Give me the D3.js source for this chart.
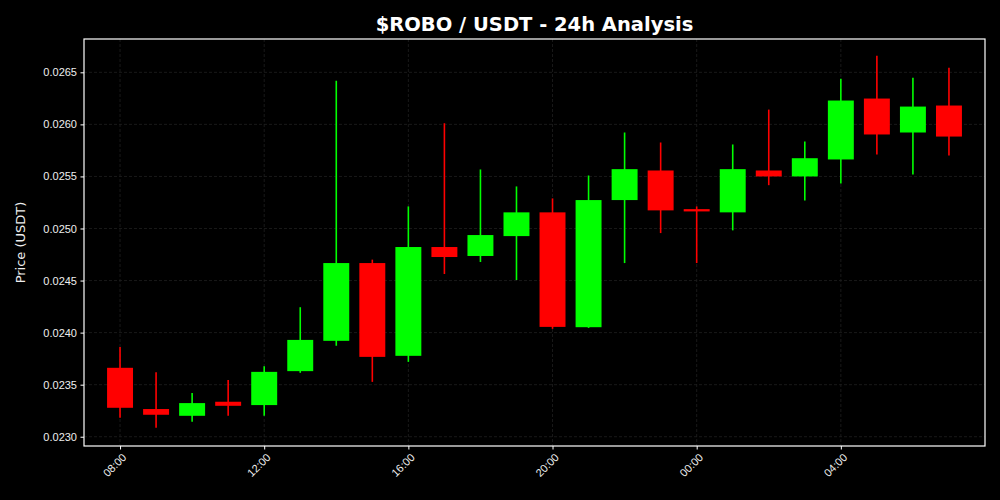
<!DOCTYPE html>
<html>
<head>
<meta charset="utf-8">
<script src="https://cdn.jsdelivr.net/npm/d3@7"></script>
<style>
  html, body { margin: 0; padding: 0; background: #000; }
  svg { display: block; font-family: "DejaVu Sans", sans-serif; }
</style>
</head>
<body>
<div id="chart"></div>
<script>
// hourly candles, 08:00 -> 07:00 next day
const hours = ["08:00","09:00","10:00","11:00","12:00","13:00","14:00","15:00","16:00","17:00","18:00","19:00",
               "20:00","21:00","22:00","23:00","00:00","01:00","02:00","03:00","04:00","05:00","06:00","07:00"];
const open  = [0.023662,0.023266,0.023201,0.023336,0.023304,0.023630,0.023921,0.024668,0.023777,0.024822,0.024736,0.024927,
               0.025155,0.024052,0.025273,0.025557,0.025186,0.025155,0.025557,0.025500,0.025663,0.026248,0.025922,0.026181];
const high  = [0.023863,0.023620,0.023419,0.023544,0.023678,0.024244,0.026420,0.024701,0.025212,0.026011,0.025567,0.025404,
               0.025289,0.025509,0.025922,0.025826,0.025212,0.025807,0.026142,0.025835,0.026439,0.026659,0.026449,0.026545];
const low   = [0.023182,0.023086,0.023144,0.023201,0.023201,0.023614,0.023873,0.023527,0.023719,0.024563,0.024678,0.024505,
               0.024036,0.024045,0.024668,0.024956,0.024668,0.024982,0.025416,0.025270,0.025433,0.025711,0.025519,0.025701];
const close = [0.023278,0.023211,0.023323,0.023297,0.023623,0.023930,0.024668,0.023767,0.024822,0.024726,0.024937,0.025155,
               0.024055,0.025273,0.025570,0.025174,0.025164,0.025570,0.025500,0.025675,0.026229,0.025903,0.026171,0.025883];
const yTicks = [0.0230,0.0235,0.0240,0.0245,0.0250,0.0255,0.0260,0.0265];

const width = 1000, height = 500,
  margin = { top: 39, right: 15, bottom: 54, left: 84 };

const start = new Date(2024, 0, 1, 8, 0);
const HOUR = 3600 * 1000;
const data = hours.map((h, i) => ({
  t: new Date(start.getTime() + i * HOUR),
  label: h, o: open[i], h: high[i], l: low[i], c: close[i]
}));

const x = d3.scaleTime()
  .domain([new Date(start.getTime() - HOUR), new Date(start.getTime() + 24 * HOUR)])
  .range([margin.left, width - margin.right]);

const y = d3.scaleLinear()
  .domain([0.022911, 0.02682])
  .range([height - margin.bottom, margin.top]);

const svg = d3.select("#chart").append("svg")
  .attr("width", width)
  .attr("height", height);

svg.append("rect").attr("width", width).attr("height", height).attr("fill", "#000");

const xTicks = d3.range(0, 24, 4).map(i => new Date(start.getTime() + i * HOUR));

// grid
svg.append("g").selectAll("line")
  .data(yTicks).join("line")
  .attr("x1", margin.left).attr("x2", width - margin.right)
  .attr("y1", d => y(d)).attr("y2", d => y(d))
  .attr("stroke", "#1f1f1f").attr("stroke-dasharray", "3,2").attr("stroke-width", 0.8);
svg.append("g").selectAll("line")
  .data(xTicks).join("line")
  .attr("y1", margin.top).attr("y2", height - margin.bottom)
  .attr("x1", d => x(d)).attr("x2", d => x(d))
  .attr("stroke", "#1f1f1f").attr("stroke-dasharray", "3,2").attr("stroke-width", 0.8);

// candles
const half = x(new Date(start.getTime() + 0.36 * HOUR)) - x(start);
const col = d => d.c >= d.o ? "#00ff00" : "#ff0000";

const candles = svg.append("g").selectAll("g")
  .data(data).join("g");

candles.append("line")
  .attr("x1", d => x(d.t)).attr("x2", d => x(d.t))
  .attr("y1", d => y(d.h)).attr("y2", d => y(d.l))
  .attr("stroke", col).attr("stroke-width", 1.6);

candles.append("rect")
  .attr("x", d => x(d.t) - half)
  .attr("width", half * 2)
  .attr("y", d => y(Math.max(d.o, d.c)))
  .attr("height", d => Math.max(1, Math.abs(y(d.o) - y(d.c))))
  .attr("fill", col);

// axes
const yAxis = d3.axisLeft(y).tickValues(yTicks).tickFormat(d3.format(".4f")).tickSize(3.5).tickPadding(3.5);
const xAxis = d3.axisBottom(x).tickValues(xTicks).tickFormat(d3.timeFormat("%H:%M")).tickSize(3.5).tickPadding(3.5);

const gy = svg.append("g")
  .attr("transform", `translate(${margin.left},0)`)
  .call(yAxis);
gy.select(".domain").remove();
gy.selectAll("line").attr("stroke", "#fff");
gy.selectAll("text").attr("fill", "#eee").attr("font-size", "11px");

const gx = svg.append("g")
  .attr("transform", `translate(0,${height - margin.bottom})`)
  .call(xAxis);
gx.select(".domain").remove();
gx.selectAll("line").attr("stroke", "#fff");
gx.selectAll("text")
  .attr("fill", "#eee").attr("font-size", "11px")
  .attr("text-anchor", "end")
  .attr("dx", "0.1em").attr("dy", "0.75em")
  .attr("transform", function () {
    const t = d3.select(this);
    return `rotate(-45, 0, ${+t.attr("y")})`;
  });

// frame
svg.append("rect")
  .attr("x", margin.left).attr("y", margin.top)
  .attr("width", width - margin.left - margin.right)
  .attr("height", height - margin.top - margin.bottom)
  .attr("fill", "none").attr("stroke", "#fff").attr("stroke-width", 1.2);

// labels
svg.append("text")
  .attr("x", (margin.left + width - margin.right) / 2).attr("y", 31)
  .attr("text-anchor", "middle")
  .attr("fill", "#fff").attr("font-size", "19.5px").attr("font-weight", "bold")
  .text("$ROBO / USDT - 24h Analysis");

svg.append("text")
  .attr("transform", `translate(25,${(margin.top + height - margin.bottom) / 2}) rotate(-90)`)
  .attr("text-anchor", "middle")
  .attr("fill", "#eee").attr("font-size", "13px")
  .text("Price (USDT)");
</script>
</body>
</html>
